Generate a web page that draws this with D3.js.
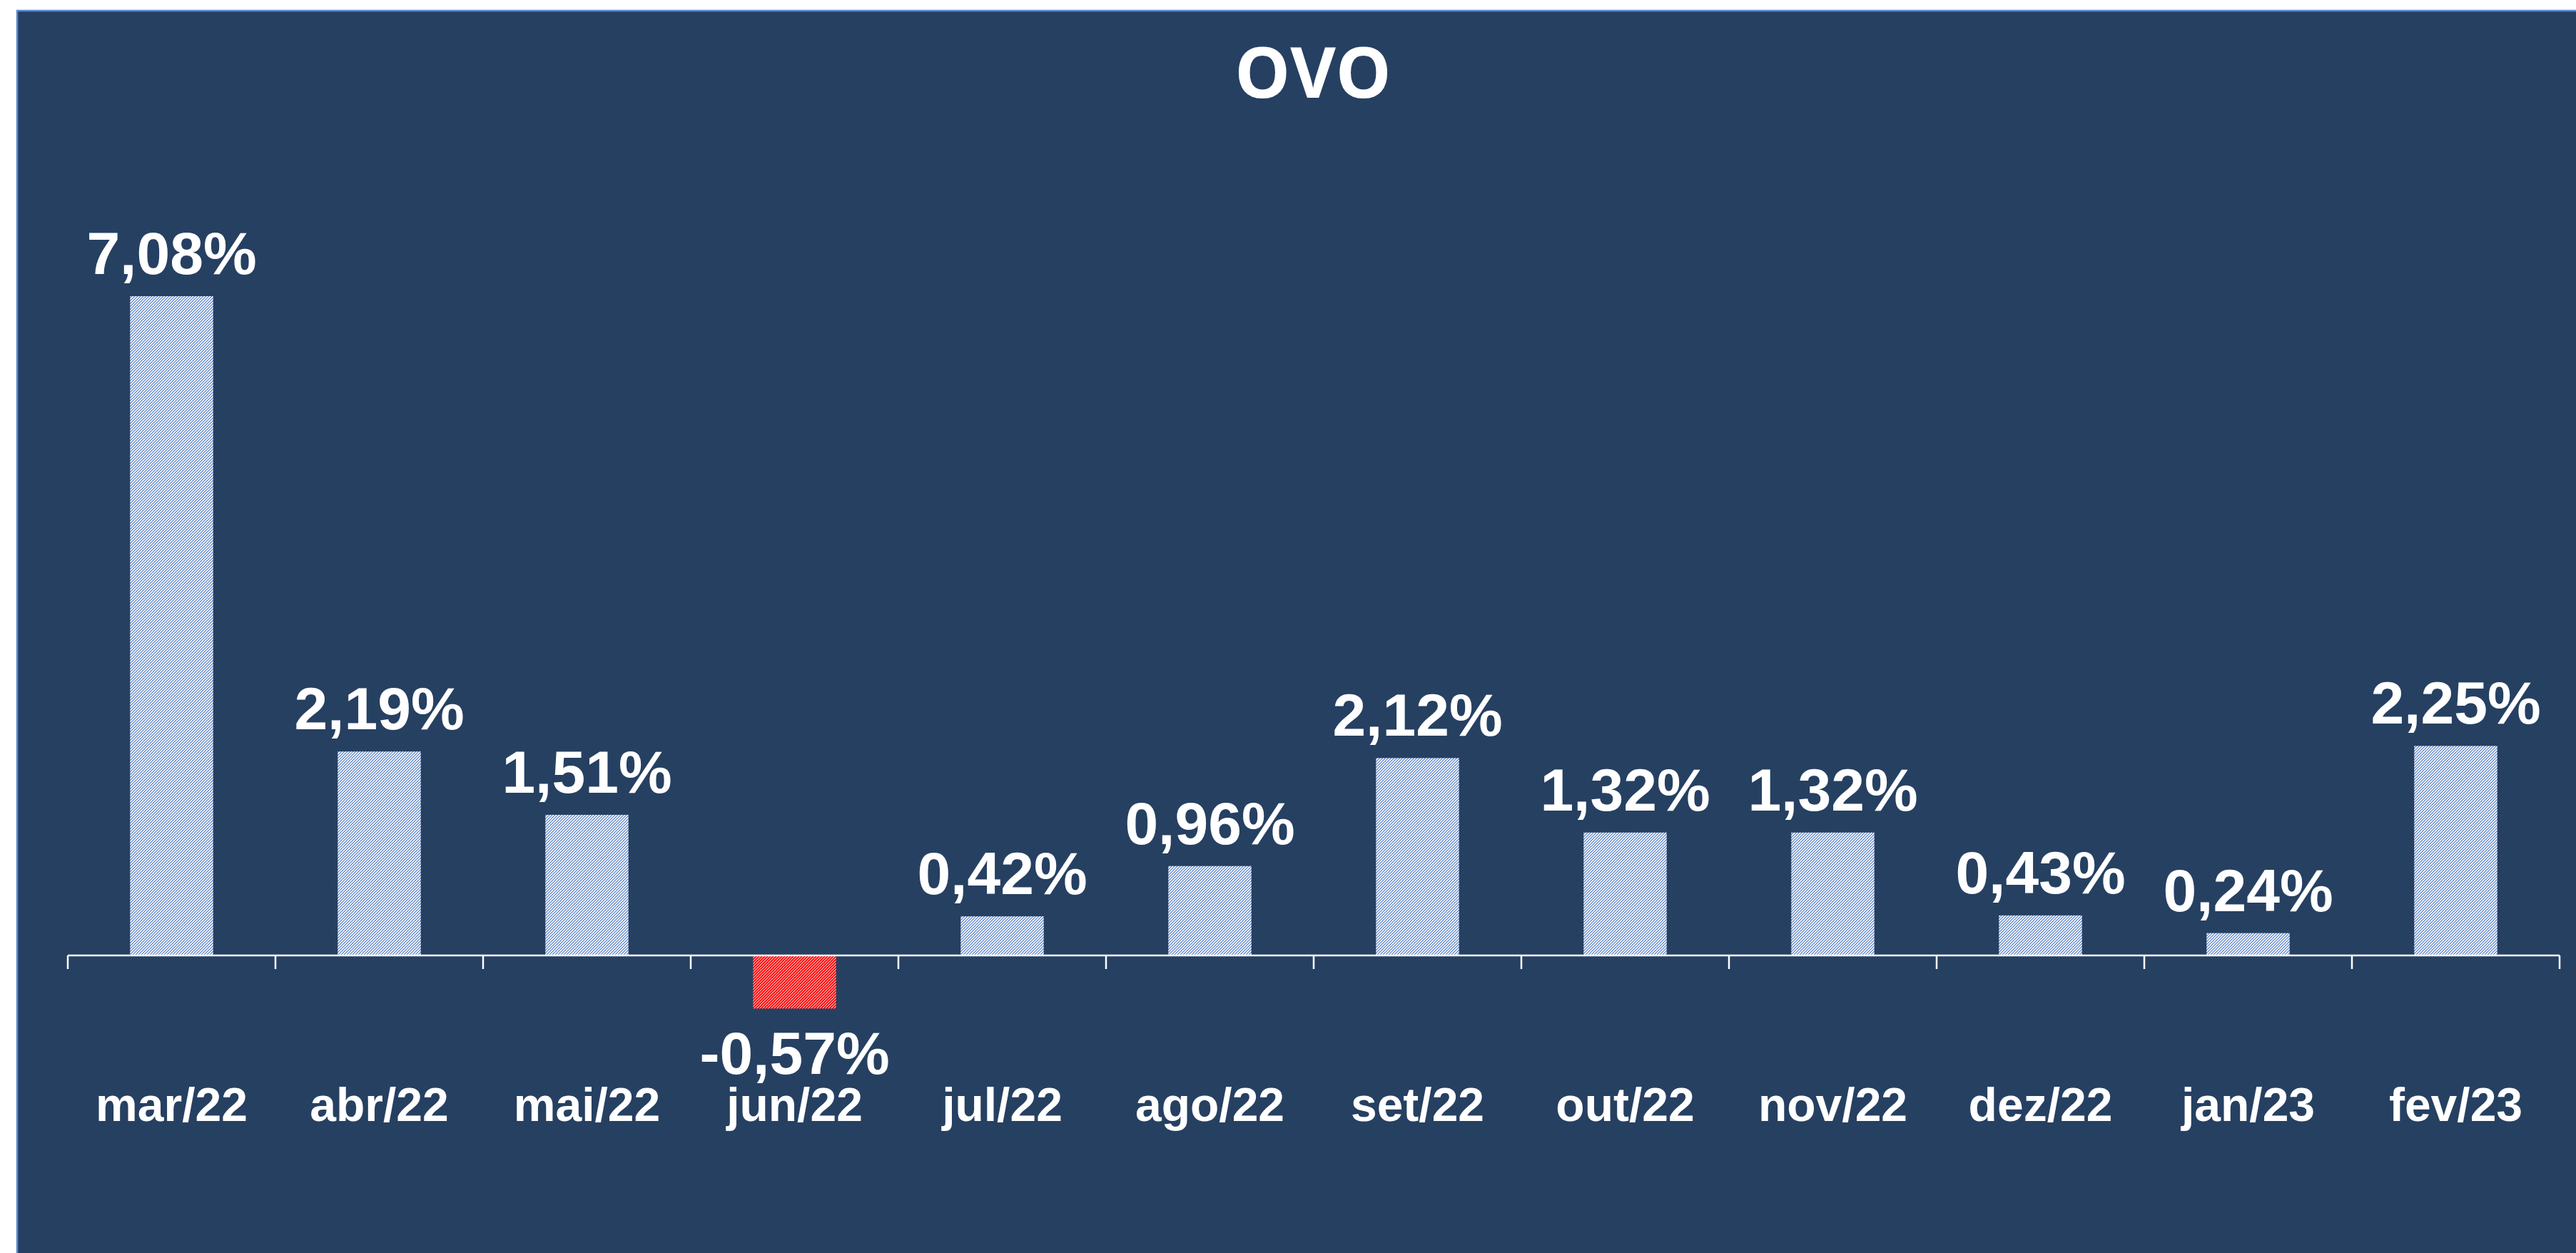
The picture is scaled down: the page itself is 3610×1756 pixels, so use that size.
<!DOCTYPE html>
<html>
<head>
<meta charset="utf-8">
<script src="https://cdn.jsdelivr.net/npm/d3@7"></script>
<style>
  html, body { margin: 0; padding: 0; background: #ffffff; }
  svg { display: block; }
</style>
</head>
<body>
<svg id="chart" width="3610" height="1756"></svg>
<script>
const title = "OVO";
const categories = ["mar/22","abr/22","mai/22","jun/22","jul/22","ago/22","set/22","out/22","nov/22","dez/22","jan/23","fev/23"];
const values = [7.08, 2.19, 1.51, -0.57, 0.42, 0.96, 2.12, 1.32, 1.32, 0.43, 0.24, 2.25];
const valueLabels = ["7,08%","2,19%","1,51%","-0,57%","0,42%","0,96%","2,12%","1,32%","1,32%","0,43%","0,24%","2,25%"];

const W = 3610, H = 1756;
const svg = d3.select("#chart");

const defs = svg.append("defs");
const pb = defs.append("pattern").attr("id", "hatchBlue").attr("patternUnits", "userSpaceOnUse")
  .attr("width", 4).attr("height", 4);
pb.append("rect").attr("width", 4).attr("height", 4).attr("fill", "#ffffff");
pb.append("path").attr("d", "M0,4 L4,0 M-1,1 L1,-1 M3,5 L5,3").attr("stroke", "#4472C4").attr("stroke-width", 1.1);
const pr = defs.append("pattern").attr("id", "hatchRed").attr("patternUnits", "userSpaceOnUse")
  .attr("width", 4).attr("height", 4);
pr.append("rect").attr("width", 4).attr("height", 4).attr("fill", "#ffffff");
pr.append("path").attr("d", "M0,4 L4,0 M-1,1 L1,-1 M3,5 L5,3").attr("stroke", "#ff0000").attr("stroke-width", 2);

// background panel
svg.append("rect").attr("x", 24).attr("y", 15).attr("width", W - 24).attr("height", H - 15)
  .attr("fill", "#264062");
svg.append("path").attr("d", `M24,${H} L24,15 L${W},15`).attr("fill", "none")
  .attr("stroke", "#5B8BD3").attr("stroke-width", 2.5);

const x = d3.scaleBand().domain(categories).range([95, 3587]).paddingInner(0.6).paddingOuter(0.3);
const y = d3.scaleLinear().domain([-1, 8]).range([1339 + 130.5, 1339 - 8 * 130.5]);

// title
svg.append("text").attr("x", 1840).attr("y", 137).attr("text-anchor", "middle")
  .attr("font-family", "'Open Sans', sans-serif").attr("font-weight", 700)
  .attr("font-size", 98).attr("fill", "#ffffff").text(title);

// bars
const data = categories.map((c, i) => ({ c, v: values[i], l: valueLabels[i] }));
svg.append("g").selectAll("rect").data(data).join("rect")
  .attr("x", d => x(d.c))
  .attr("width", x.bandwidth())
  .attr("y", d => y(Math.max(0, d.v)))
  .attr("height", d => Math.abs(y(d.v) - y(0)))
  .attr("fill", d => d.v < 0 ? "url(#hatchRed)" : "url(#hatchBlue)");

// axis line and ticks
const step = x.step();
const zeroY = y(0);
const axisG = svg.append("g").attr("stroke", "#ffffff").attr("stroke-width", 2.5);
axisG.append("line").attr("x1", x.range()[0]).attr("x2", x.range()[1]).attr("y1", zeroY).attr("y2", zeroY);
const bounds = categories.map(c => x(c) - step * x.paddingInner() / 2 - step * (x.paddingOuter() - x.paddingInner() / 2) * 0);
const boundaryXs = d3.range(categories.length + 1).map(i => x.range()[0] + i * step);
axisG.selectAll("line.tick").data(boundaryXs).join("line").attr("class", "tick")
  .attr("x1", d => d).attr("x2", d => d).attr("y1", zeroY).attr("y2", zeroY + 19);

// value labels
svg.append("g").selectAll("text").data(data).join("text")
  .attr("x", d => x(d.c) + x.bandwidth() / 2)
  .attr("y", d => d.v >= 0 ? y(d.v) - 31 : y(d.v) + 92)
  .attr("text-anchor", "middle")
  .attr("font-family", "'Liberation Sans', Arial, sans-serif").attr("font-weight", 700)
  .attr("font-size", 84).attr("fill", "#ffffff")
  .text(d => d.l);

// category labels
svg.append("g").selectAll("text").data(categories).join("text")
  .attr("x", d => x(d) + x.bandwidth() / 2)
  .attr("y", 1571)
  .attr("text-anchor", "middle")
  .attr("font-family", "'Liberation Sans', Arial, sans-serif").attr("font-weight", 700)
  .attr("font-size", 66).attr("fill", "#ffffff")
  .text(d => d);
</script>
</body>
</html>
